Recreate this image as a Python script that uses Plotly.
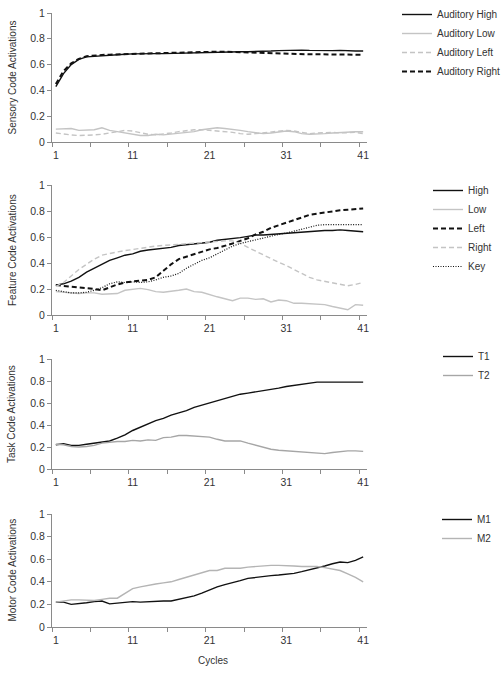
import plotly.graph_objects as go

cycles = list(range(1, 42))

# Panel 1: Sensory code activations
aud_high = [0.43, 0.53, 0.60, 0.64, 0.66, 0.665, 0.67, 0.675, 0.678, 0.68, 0.683, 0.685, 0.685, 0.685, 0.685, 0.687, 0.69, 0.69, 0.692, 0.695, 0.697, 0.70, 0.70, 0.70, 0.70, 0.70, 0.70, 0.702, 0.705, 0.708, 0.71, 0.712, 0.712, 0.71, 0.708, 0.708, 0.708, 0.71, 0.705, 0.705, 0.705]
aud_low = [0.10, 0.10, 0.105, 0.09, 0.09, 0.095, 0.11, 0.09, 0.08, 0.07, 0.06, 0.05, 0.05, 0.06, 0.055, 0.06, 0.065, 0.07, 0.08, 0.095, 0.105, 0.11, 0.105, 0.10, 0.09, 0.08, 0.07, 0.065, 0.07, 0.08, 0.085, 0.08, 0.065, 0.06, 0.06, 0.065, 0.07, 0.075, 0.08, 0.08, 0.08]
aud_left = [0.07, 0.06, 0.055, 0.05, 0.05, 0.055, 0.06, 0.07, 0.08, 0.09, 0.085, 0.07, 0.06, 0.055, 0.06, 0.07, 0.08, 0.09, 0.095, 0.095, 0.09, 0.09, 0.085, 0.075, 0.065, 0.06, 0.065, 0.07, 0.08, 0.085, 0.09, 0.085, 0.075, 0.065, 0.07, 0.075, 0.075, 0.07, 0.075, 0.075, 0.065]
aud_right = [0.45, 0.55, 0.61, 0.645, 0.665, 0.672, 0.675, 0.677, 0.68, 0.682, 0.684, 0.686, 0.687, 0.688, 0.69, 0.691, 0.693, 0.695, 0.697, 0.699, 0.70, 0.70, 0.70, 0.698, 0.695, 0.692, 0.69, 0.688, 0.686, 0.684, 0.682, 0.681, 0.68, 0.68, 0.68, 0.68, 0.679, 0.678, 0.678, 0.677, 0.676]

# Panel 2: Feature code activations
feat_high = [0.23, 0.24, 0.26, 0.29, 0.33, 0.36, 0.39, 0.42, 0.44, 0.46, 0.47, 0.49, 0.50, 0.505, 0.51, 0.52, 0.535, 0.54, 0.545, 0.55, 0.56, 0.575, 0.58, 0.59, 0.595, 0.605, 0.615, 0.615, 0.62, 0.62, 0.625, 0.63, 0.64, 0.645, 0.645, 0.65, 0.65, 0.655, 0.65, 0.645, 0.64]
feat_low = [0.18, 0.175, 0.17, 0.165, 0.17, 0.17, 0.16, 0.16, 0.165, 0.19, 0.20, 0.205, 0.195, 0.18, 0.175, 0.18, 0.19, 0.20, 0.18, 0.175, 0.155, 0.14, 0.125, 0.11, 0.13, 0.13, 0.12, 0.125, 0.10, 0.115, 0.11, 0.09, 0.09, 0.085, 0.08, 0.08, 0.065, 0.05, 0.04, 0.08, 0.075]
feat_left = [0.23, 0.225, 0.22, 0.215, 0.21, 0.20, 0.19, 0.215, 0.235, 0.25, 0.26, 0.265, 0.27, 0.29, 0.34, 0.39, 0.43, 0.45, 0.47, 0.49, 0.505, 0.515, 0.53, 0.55, 0.57, 0.59, 0.62, 0.64, 0.67, 0.69, 0.71, 0.73, 0.75, 0.77, 0.78, 0.79, 0.80, 0.805, 0.81, 0.815, 0.82]
feat_right = [0.22, 0.25, 0.30, 0.35, 0.39, 0.43, 0.46, 0.475, 0.485, 0.495, 0.505, 0.515, 0.52, 0.53, 0.535, 0.54, 0.545, 0.55, 0.555, 0.555, 0.56, 0.565, 0.57, 0.57, 0.55, 0.52, 0.49, 0.46, 0.43, 0.405, 0.38, 0.35, 0.32, 0.29, 0.27, 0.26, 0.25, 0.235, 0.225, 0.235, 0.25]
feat_key = [0.19, 0.18, 0.17, 0.17, 0.175, 0.19, 0.21, 0.24, 0.255, 0.25, 0.255, 0.25, 0.255, 0.27, 0.29, 0.30, 0.32, 0.36, 0.39, 0.42, 0.44, 0.47, 0.50, 0.53, 0.55, 0.565, 0.58, 0.595, 0.61, 0.62, 0.63, 0.645, 0.66, 0.68, 0.69, 0.695, 0.695, 0.695, 0.695, 0.695, 0.695]

# Panel 3: Task code activations
task_t1 = [0.22, 0.23, 0.215, 0.215, 0.225, 0.235, 0.24, 0.255, 0.28, 0.31, 0.35, 0.38, 0.41, 0.44, 0.46, 0.49, 0.51, 0.53, 0.56, 0.58, 0.60, 0.62, 0.64, 0.66, 0.68, 0.69, 0.70, 0.715, 0.725, 0.735, 0.75, 0.76, 0.77, 0.78, 0.79, 0.79, 0.79, 0.795, 0.795, 0.795, 0.79]
task_t2 = [0.225, 0.22, 0.205, 0.20, 0.205, 0.215, 0.235, 0.245, 0.25, 0.25, 0.26, 0.255, 0.265, 0.26, 0.285, 0.29, 0.305, 0.305, 0.30, 0.29, 0.29, 0.27, 0.255, 0.255, 0.255, 0.235, 0.215, 0.195, 0.18, 0.17, 0.165, 0.165, 0.16, 0.155, 0.15, 0.14, 0.15, 0.16, 0.165, 0.165, 0.16]

# Panel 4: Motor code activations
motor_m1 = [0.22, 0.22, 0.20, 0.205, 0.215, 0.225, 0.23, 0.205, 0.21, 0.215, 0.225, 0.22, 0.225, 0.23, 0.23, 0.23, 0.245, 0.26, 0.275, 0.30, 0.33, 0.355, 0.375, 0.39, 0.41, 0.43, 0.44, 0.45, 0.455, 0.46, 0.465, 0.475, 0.49, 0.505, 0.52, 0.54, 0.56, 0.575, 0.57, 0.59, 0.62]
motor_m2 = [0.22, 0.23, 0.24, 0.24, 0.235, 0.235, 0.245, 0.255, 0.255, 0.30, 0.34, 0.355, 0.37, 0.38, 0.39, 0.40, 0.42, 0.44, 0.46, 0.48, 0.50, 0.50, 0.52, 0.52, 0.52, 0.53, 0.535, 0.545, 0.545, 0.545, 0.545, 0.54, 0.535, 0.535, 0.535, 0.525, 0.515, 0.50, 0.47, 0.44, 0.40]

y_ticks = [0, 0.2, 0.4, 0.6, 0.8, 1]
y_ticktext = ["0", "0.2", "0.4", "0.6", "0.8", "1"]
x_ticks = [1, 11, 21, 31, 41]
x_minor = [0.5 + 5 * k for k in range(9)]

BLACK = "#111111"
LGRAY = "#c4c4c4"
MGRAY = "#a6a6a6"
FONT = "Liberation Sans, Arial, sans-serif"

fig = go.Figure()

def add(y, name, color, width, dash, ax, legend):
    fig.add_trace(go.Scatter(
        x=cycles, y=y, name=name, mode="lines",
        line=dict(color=color, width=width, dash=dash),
        xaxis="x" + ("" if ax == 1 else str(ax)),
        yaxis="y" + ("" if ax == 1 else str(ax)),
        legend="legend" + ("" if legend == 1 else str(legend)),
    ))

DASH = "5px,3px"
add(aud_high, "Auditory High", BLACK, 1.4, "solid", 1, 1)
add(aud_low, "Auditory Low", LGRAY, 1.4, "solid", 1, 1)
add(aud_left, "Auditory Left", LGRAY, 1.4, DASH, 1, 1)
add(aud_right, "Auditory Right", BLACK, 2, DASH, 1, 1)

add(feat_high, "High", BLACK, 1.4, "solid", 2, 2)
add(feat_low, "Low", LGRAY, 1.4, "solid", 2, 2)
add(feat_left, "Left", BLACK, 2, DASH, 2, 2)
add(feat_right, "Right", LGRAY, 1.4, DASH, 2, 2)
add(feat_key, "Key", BLACK, 1.2, "1px,1.5px", 2, 2)

add(task_t1, "T1", BLACK, 1.4, "solid", 3, 3)
add(task_t2, "T2", MGRAY, 1.4, "solid", 3, 3)

add(motor_m1, "M1", BLACK, 1.4, "solid", 4, 4)
add(motor_m2, "M2", "#b4b4b4", 1.4, "solid", 4, 4)

W, H = 501, 680
x_dom = [52 / W, 367 / W]
panels = [(13, 142), (185, 315), (359, 469), (514, 627)]
titles = ["Sensory Code Activations", "Feature Code Activations",
          "Task Code Activations", "Motor Code Activations"]
legend_tops = [0, 176, 342, 505]
legend_x = [397, 428, 438, 437]

layout = dict(
    width=W, height=H, margin=dict(l=0, r=0, t=0, b=0, autoexpand=False),
    paper_bgcolor="white", plot_bgcolor="white",
    font=dict(family=FONT, size=10, color="#333333"),
    showlegend=True,
)
annotations = []
for i, (top, bot) in enumerate(panels):
    k = "" if i == 0 else str(i + 1)
    dom = [1 - bot / H, 1 - top / H]
    layout["xaxis" + k] = dict(
        domain=x_dom, anchor="y" + k, range=[0.5, 41.5],
        tickvals=x_ticks, ticktext=[str(v) for v in x_ticks], ticks="",
        ticklabelstandoff=3, automargin=False,
        showline=True, linecolor="#8a8a8a", linewidth=1, showgrid=False,
        zeroline=False, tickfont=dict(size=10.5, color="#333333"),
        minor=dict(tickvals=x_minor, ticks="outside", ticklen=4, tickcolor="#8a8a8a", showgrid=False),
        fixedrange=True,
    )
    layout["yaxis" + k] = dict(
        domain=dom, anchor="x" + k, range=[0, 1], automargin=False,
        tickvals=y_ticks, ticktext=y_ticktext, ticks="outside", ticklen=4,
        tickcolor="#8a8a8a", showline=True, linecolor="#8a8a8a", linewidth=1,
        showgrid=False, zeroline=False, tickfont=dict(size=10.5, color="#333333"),
        fixedrange=True,
    )
    annotations.append(dict(
        text=titles[i], textangle=-90, xref="paper", yref="paper",
        x=12 / W, y=1 - (top + bot) / 2 / H, showarrow=False,
        font=dict(size=10, color="#333333"), xanchor="center", yanchor="middle",
    ))
    layout["legend" + k] = dict(
        x=legend_x[i] / W, y=1 - legend_tops[i] / H, xanchor="left", yanchor="top",
        bgcolor="rgba(0,0,0,0)", font=dict(size=10, color="#333333"),
        tracegroupgap=0, itemwidth=30,
    )

annotations.append(dict(
    text="Cycles", xref="paper", yref="paper", x=213 / W, y=1 - 660 / H,
    xanchor="center", yanchor="middle",
    showarrow=False, font=dict(size=10, color="#333333"),
))
layout["annotations"] = annotations

fig.update_layout(**layout)
fig.write_html("out.html")
